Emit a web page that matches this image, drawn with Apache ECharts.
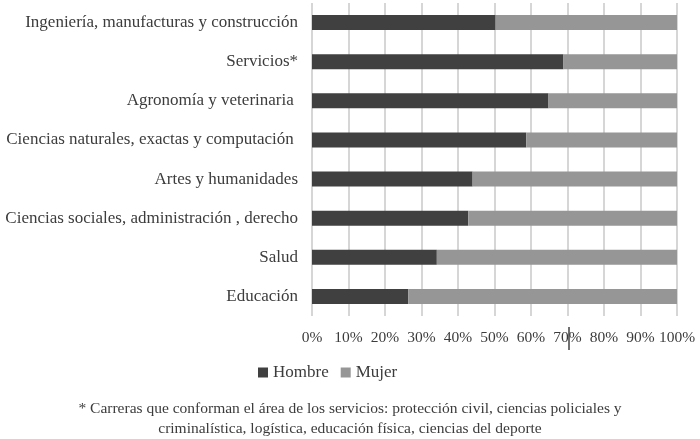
<!DOCTYPE html>
<html>
<head>
<meta charset="utf-8">
<script src="https://cdn.jsdelivr.net/npm/echarts@6/dist/echarts.min.js"></script>
<style>
html,body{margin:0;padding:0;background:#fff;}
#chart{width:700px;height:439px;}
</style>
</head>
<body>
<div id="chart"></div>
<script>
var categories = [
  'Ingeniería, manufacturas y construcción',
  'Servicios*',
  'Agronomía y veterinaria ',
  'Ciencias naturales, exactas y computación ',
  'Artes y humanidades',
  'Ciencias sociales, administración , derecho',
  'Salud',
  'Educación'
];
var hombre = [50.3, 68.9, 64.8, 58.7, 44.0, 42.8, 34.2, 26.4];
var mujer  = [49.7, 31.1, 35.2, 41.3, 56.0, 57.2, 65.8, 73.6];
var xTicks = [0, 10, 20, 30, 40, 50, 60, 70, 80, 90, 100];
var footnote1 = '* Carreras que conforman el área de los servicios: protección civil, ciencias policiales y';
var footnote2 = 'criminalística, logística, educación física, ciencias del deporte';

var FONT = '"Liberation Serif", "DejaVu Serif", serif';
var TXT = '#3c3c3c';
var chart = echarts.init(document.getElementById('chart'), null, {renderer: 'canvas'});
chart.setOption({
  animation: false,
  backgroundColor: '#ffffff',
  textStyle: {fontFamily: FONT, color: TXT},
  grid: {left: 312, right: 23, top: 3, bottom: 123},
  xAxis: {
    type: 'value', min: xTicks[0], max: xTicks[xTicks.length - 1], interval: 10,
    axisLine: {show: false}, axisTick: {show: false},
    splitLine: {show: true, lineStyle: {color: '#c8c8c8', width: 1.5}},
    axisLabel: {formatter: '{value}%', fontFamily: FONT, fontSize: 15.5, color: TXT, margin: 14}
  },
  yAxis: {
    type: 'category', data: categories, inverse: true,
    axisLine: {show: false}, axisTick: {show: false},
    axisLabel: {fontFamily: FONT, fontSize: 17, color: TXT, margin: 14}
  },
  legend: {
    left: 253, top: 359, itemWidth: 10, itemHeight: 10, itemGap: 12, icon: 'rect',
    textStyle: {fontFamily: FONT, fontSize: 17, color: TXT, padding: [0, 0, 0, 0]},
    data: ['Hombre', 'Mujer']
  },
  series: [
    {name: 'Hombre', type: 'bar', stack: 'total', data: hombre, barWidth: 15,
     itemStyle: {color: '#404040'}},
    {name: 'Mujer', type: 'bar', stack: 'total', data: mujer, barWidth: 15,
     itemStyle: {color: '#969696'}}
  ],
  graphic: [
    {type: 'text', left: 'center', top: 401,
     style: {text: footnote1, font: '15.5px ' + FONT, fill: TXT}},
    {type: 'text', left: 'center', top: 421,
     style: {text: footnote2, font: '15.5px ' + FONT, fill: TXT}},
    {type: 'line', shape: {x1: 569, y1: 327, x2: 569, y2: 350},
     style: {stroke: '#404040', lineWidth: 1.5}}
  ]
});
</script>
</body>
</html>
